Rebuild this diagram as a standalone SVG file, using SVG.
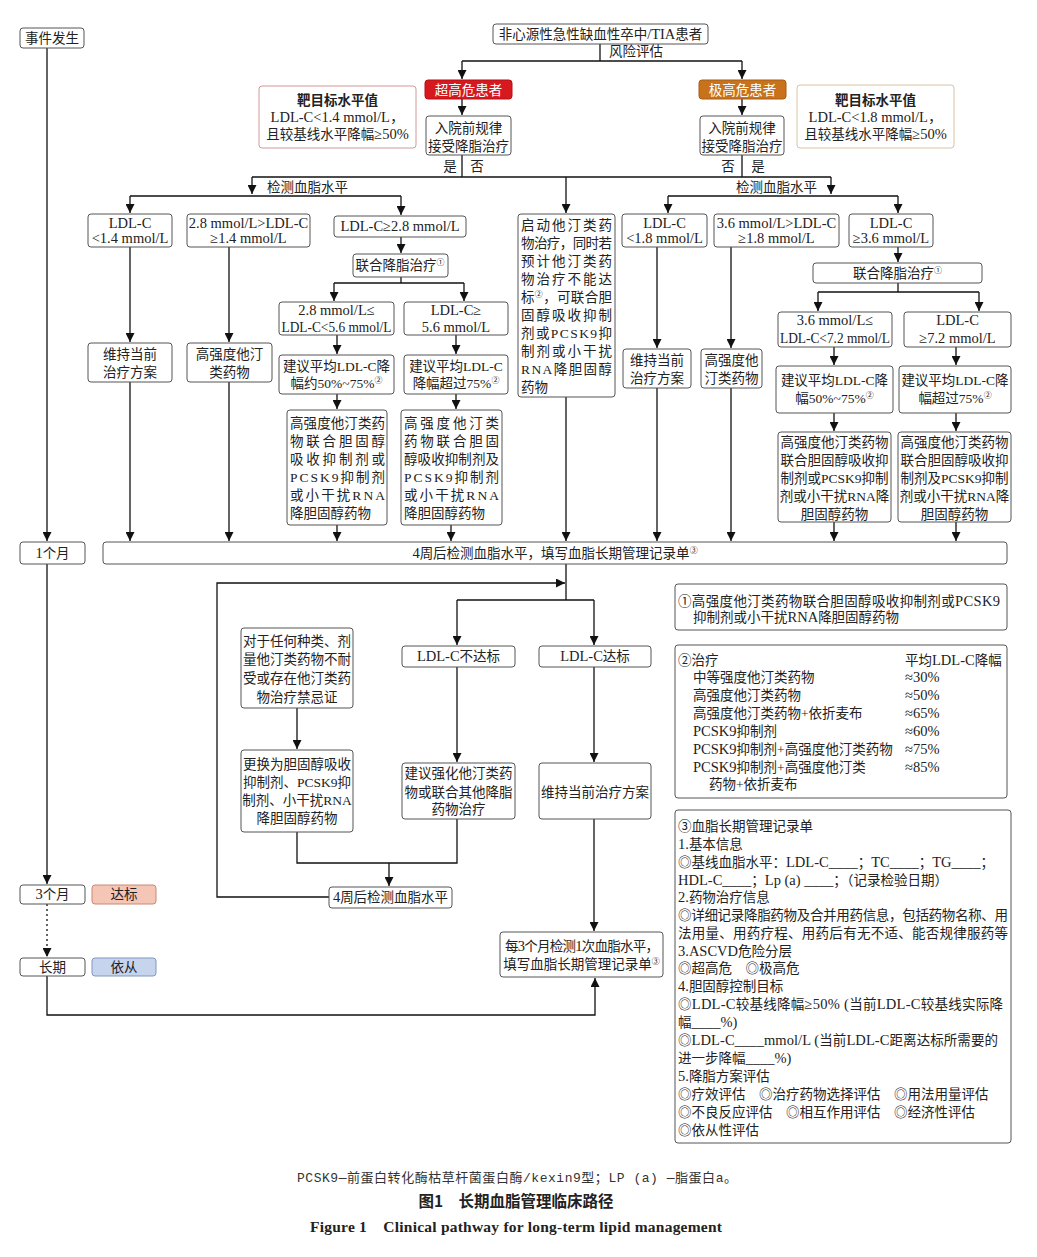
<svg xmlns="http://www.w3.org/2000/svg" width="1037" height="1257" viewBox="0 0 1037 1257">
<style>
.b{fill:#fff;stroke:#555;stroke-width:1}
.t{font-family:"Liberation Serif","Noto Sans CJK SC",serif;font-size:13.5px;fill:#222}
.L{font-size:14.5px}
.c{text-anchor:middle}
.ln{fill:none;stroke:#111;stroke-width:1.3}
.a{marker-end:url(#ah)}
.s{font-size:8px}
.bd{font-family:"Noto Sans CJK SC",sans-serif;font-weight:bold;font-size:13.5px;fill:#222}
</style>
<defs>
<marker id="ah" markerUnits="userSpaceOnUse" markerWidth="9" markerHeight="9" viewBox="0 0 9 9" refX="9" refY="4.5" orient="auto"><path d="M0,0 L9,4.5 L0,9 z" fill="#111"/></marker>
</defs>
<rect width="1037" height="1257" fill="#fff"/>

<g id="connectors">
<path class="ln a" d="M47,48 V541"/>
<path class="ln a" d="M47,564 V884"/>
<path class="ln a" d="M47,904 V957" stroke-dasharray="2,3"/>
<path class="ln a" d="M47,976 V1015 H595 V978"/>
<path class="ln" d="M600,43 V61"/>
<path class="ln" d="M462,61 H742"/>
<path class="ln a" d="M462,61 V79"/>
<path class="ln a" d="M742,61 V79"/>
<path class="ln a" d="M462,99 V115"/>
<path class="ln a" d="M742,99 V115"/>
<path class="ln" d="M462,155 V177"/>
<path class="ln" d="M742,155 V177"/>
<path class="ln" d="M252,177 H831"/>
<path class="ln a" d="M252,177 V194"/>
<path class="ln" d="M130,196 H401"/>
<path class="ln a" d="M130,196 V213"/>
<path class="ln a" d="M401,196 V215"/>
<path class="ln a" d="M566,177 V213"/>
<path class="ln a" d="M831,177 V194"/>
<path class="ln" d="M668,196 H898"/>
<path class="ln a" d="M668,196 V213"/>
<path class="ln a" d="M898,196 V213"/>
<path class="ln a" d="M130,247 V342"/>
<path class="ln a" d="M229,247 V342"/>
<path class="ln a" d="M401,237 V253"/>
<path class="ln" d="M401,277 V283"/>
<path class="ln" d="M334,283 H464"/>
<path class="ln a" d="M334,283 V301"/>
<path class="ln a" d="M464,283 V301"/>
<path class="ln a" d="M337,335 V354"/>
<path class="ln a" d="M456,335 V354"/>
<path class="ln a" d="M337,394 V409"/>
<path class="ln a" d="M456,394 V409"/>
<path class="ln a" d="M130,382 V541"/>
<path class="ln a" d="M229,382 V541"/>
<path class="ln a" d="M337,525 V541"/>
<path class="ln a" d="M451,525 V541"/>
<path class="ln a" d="M566,397 V541"/>
<path class="ln a" d="M657,247 V348"/>
<path class="ln a" d="M731,247 V348"/>
<path class="ln a" d="M898,247 V262"/>
<path class="ln" d="M898,283 V292"/>
<path class="ln" d="M818,292 H979"/>
<path class="ln a" d="M818,292 V311"/>
<path class="ln a" d="M979,292 V311"/>
<path class="ln a" d="M834,347 V365"/>
<path class="ln a" d="M956,347 V365"/>
<path class="ln a" d="M834,413 V431"/>
<path class="ln a" d="M956,413 V431"/>
<path class="ln a" d="M657,388 V541"/>
<path class="ln a" d="M731,388 V541"/>
<path class="ln a" d="M834,522 V541"/>
<path class="ln a" d="M956,522 V541"/>
<path class="ln" d="M566,564 V600"/>
<path class="ln" d="M457,600 H594"/>
<path class="ln a" d="M457,600 V645"/>
<path class="ln a" d="M594,600 V645"/>
<path class="ln a" d="M329,897 H217 V583 H565"/>
<path class="ln a" d="M297,708 V749"/>
<path class="ln a" d="M457,667 V762"/>
<path class="ln a" d="M594,667 V762"/>
<path class="ln" d="M297,832 V863 H457 V819"/>
<path class="ln a" d="M389,863 V886"/>
<path class="ln a" d="M594,819 V931"/>
<text class="t" x="609" y="56">风险评估</text>
<text class="t c" x="450" y="171">是</text>
<text class="t c" x="477" y="171">否</text>
<text class="t c" x="728" y="171">否</text>
<text class="t c" x="758" y="171">是</text>
<text class="t" x="267" y="192">检测血脂水平</text>
<text class="t" x="736" y="192">检测血脂水平</text>
</g>

<g id="n-event"><rect class="b" x="20" y="28" width="64" height="20" rx="3"/><text class="t c" x="52" y="43">事件发生</text></g>
<g id="n-patient"><rect class="b" x="493" y="24" width="215" height="20" rx="3"/><text class="t c" x="600.5" y="39">非心源性急性缺血性卒中<tspan class="L">/TIA</tspan>患者</text></g>
<g id="n-ultra"><rect x="425" y="80" width="87" height="19" rx="3" fill="#d7191f" stroke="#b51018"/><text class="t c" x="468.5" y="94.5" style="fill:#fff">超高危患者</text></g>
<g id="n-very"><rect x="699" y="80" width="87" height="19" rx="3" fill="#c8731c" stroke="#a65d12"/><text class="t c" x="742.5" y="94.5" style="fill:#fff">极高危患者</text></g>
<g id="n-target-l"><rect x="259" y="86" width="157" height="62" rx="3" fill="#fff" stroke="#d19a9a"/>
<text class="bd c" x="337.5" y="105">靶目标水平值</text>
<text class="t L c" x="337.5" y="122">LDL-C&lt;1.4 mmol/L，</text>
<text class="t c" x="337.5" y="139">且较基线水平降幅<tspan class="L">≥50%</tspan></text></g>
<g id="n-target-r"><rect x="797" y="85" width="157" height="63" rx="3" fill="#fff" stroke="#d6c4a0"/>
<text class="bd c" x="875.5" y="105">靶目标水平值</text>
<text class="t L c" x="875.5" y="122">LDL-C&lt;1.8 mmol/L，</text>
<text class="t c" x="875.5" y="139">且较基线水平降幅<tspan class="L">≥50%</tspan></text></g>
<g id="n-dec-l"><rect class="b" x="426" y="116" width="85" height="39" rx="3"/><text class="t c" x="468.5" y="133">入院前规律</text><text class="t c" x="468.5" y="151">接受降脂治疗</text></g>
<g id="n-dec-r"><rect class="b" x="700" y="116" width="84" height="39" rx="3"/><text class="t c" x="742" y="133">入院前规律</text><text class="t c" x="742" y="151">接受降脂治疗</text></g>

<g id="n-a1"><rect class="b" x="88" y="214" width="84" height="33" rx="3"/><text class="t L c" x="130" y="228">LDL-C</text><text class="t L c" x="130" y="243">&lt;1.4 mmol/L</text></g>
<g id="n-a2"><rect class="b" x="187" y="214" width="123" height="33" rx="3"/><text class="t L c" x="248.5" y="228">2.8 mmol/L&gt;LDL-C</text><text class="t L c" x="248.5" y="243">≥1.4 mmol/L</text></g>
<g id="n-a3"><rect class="b" x="334" y="216" width="132" height="21" rx="3"/><text class="t L c" x="400" y="231">LDL-C≥2.8 mmol/L</text></g>
<g id="n-a4"><rect class="b" x="353" y="254" width="95" height="23" rx="3"/><text class="t c" x="400" y="270">联合降脂治疗<tspan class="s" dy="-5">①</tspan></text></g>
<g id="n-a5"><rect class="b" x="279" y="302" width="115" height="33" rx="3"/><text class="t L c" x="336.5" y="315">2.8 mmol/L≤</text><text class="t L" x="281.5" y="332" textLength="110" lengthAdjust="spacingAndGlyphs">LDL-C&lt;5.6 mmol/L</text></g>
<g id="n-a6"><rect class="b" x="404" y="302" width="104" height="33" rx="3"/><text class="t L c" x="456" y="315">LDL-C≥</text><text class="t L c" x="456" y="332">5.6 mmol/L</text></g>
<g id="n-a7"><rect class="b" x="279" y="355" width="115" height="39" rx="3"/><text class="t c" x="336.5" y="371">建议平均LDL-C降</text><text class="t c" x="336.5" y="388">幅约50%~75%<tspan class="s" dy="-5">②</tspan></text></g>
<g id="n-a8"><rect class="b" x="404" y="355" width="104" height="39" rx="3"/><text class="t c" x="456" y="371">建议平均LDL-C</text><text class="t c" x="456" y="388">降幅超过75%<tspan class="s" dy="-5">②</tspan></text></g>
<g id="n-a9"><rect class="b" x="287" y="410" width="100" height="115" rx="3"/>
<text class="t" x="290" y="428" textLength="95">高强度他汀类药</text>
<text class="t" x="290" y="446" textLength="95">物联合胆固醇</text>
<text class="t" x="290" y="464" textLength="95">吸收抑制剂或</text>
<text class="t" x="290" y="482" textLength="95">PCSK9抑制剂</text>
<text class="t" x="290" y="500" textLength="95">或小干扰RNA</text>
<text class="t" x="290" y="518">降胆固醇药物</text></g>
<g id="n-a10"><rect class="b" x="401" y="410" width="101" height="115" rx="3"/>
<text class="t" x="404" y="428" textLength="95">高强度他汀类</text>
<text class="t" x="404" y="446" textLength="95">药物联合胆固</text>
<text class="t" x="404" y="464" textLength="95">醇吸收抑制剂及</text>
<text class="t" x="404" y="482" textLength="95">PCSK9抑制剂</text>
<text class="t" x="404" y="500" textLength="95">或小干扰RNA</text>
<text class="t" x="404" y="518">降胆固醇药物</text></g>
<g id="n-a11"><rect class="b" x="88" y="343" width="84" height="39" rx="3"/><text class="t c" x="130" y="359">维持当前</text><text class="t c" x="130" y="377">治疗方案</text></g>
<g id="n-a12"><rect class="b" x="187" y="343" width="85" height="39" rx="3"/><text class="t c" x="229.5" y="359">高强度他汀</text><text class="t c" x="229.5" y="377">类药物</text></g>

<g id="n-m"><rect class="b" x="518" y="214" width="97" height="183" rx="3"/>
<text class="t" x="521" y="230" textLength="91">启动他汀类药</text>
<text class="t" x="521" y="248" textLength="91">物治疗，同时若</text>
<text class="t" x="521" y="266" textLength="91">预计他汀类药</text>
<text class="t" x="521" y="284" textLength="91">物治疗不能达</text>
<text class="t" x="521" y="302" textLength="91">标<tspan class="s" dy="-5">②</tspan><tspan dy="5">，可联合胆</tspan></text>
<text class="t" x="521" y="320" textLength="91">固醇吸收抑制</text>
<text class="t" x="521" y="338" textLength="91">剂或PCSK9抑</text>
<text class="t" x="521" y="356" textLength="91">制剂或小干扰</text>
<text class="t" x="521" y="374" textLength="91">RNA降胆固醇</text>
<text class="t" x="521" y="392">药物</text></g>

<g id="n-b1"><rect class="b" x="622" y="214" width="85" height="33" rx="3"/><text class="t L c" x="664.5" y="228">LDL-C</text><text class="t L c" x="664.5" y="243">&lt;1.8 mmol/L</text></g>
<g id="n-b2"><rect class="b" x="714" y="214" width="125" height="33" rx="3"/><text class="t L c" x="776.5" y="228">3.6 mmol/L&gt;LDL-C</text><text class="t L c" x="776.5" y="243">≥1.8 mmol/L</text></g>
<g id="n-b3"><rect class="b" x="849" y="214" width="84" height="33" rx="3"/><text class="t L c" x="891" y="228">LDL-C</text><text class="t L c" x="891" y="243">≥3.6 mmol/L</text></g>
<g id="n-b4"><rect class="b" x="623" y="349" width="68" height="39" rx="3"/><text class="t c" x="657" y="365">维持当前</text><text class="t c" x="657" y="383">治疗方案</text></g>
<g id="n-b5"><rect class="b" x="701" y="349" width="61" height="39" rx="3"/><text class="t c" x="731.5" y="365">高强度他</text><text class="t c" x="731.5" y="383">汀类药物</text></g>
<g id="n-b6"><rect class="b" x="813" y="263" width="169" height="20" rx="3"/><text class="t c" x="897.5" y="278">联合降脂治疗<tspan class="s" dy="-5">①</tspan></text></g>
<g id="n-b7"><rect class="b" x="778" y="312" width="114" height="35" rx="3"/><text class="t L c" x="835" y="325">3.6 mmol/L≤</text><text class="t L" x="780" y="343" textLength="110" lengthAdjust="spacingAndGlyphs">LDL-C&lt;7.2 mmol/L</text></g>
<g id="n-b8"><rect class="b" x="904" y="312" width="107" height="35" rx="3"/><text class="t L c" x="957.5" y="325">LDL-C</text><text class="t L c" x="957.5" y="343">≥7.2 mmol/L</text></g>
<g id="n-b9"><rect class="b" x="776" y="366" width="117" height="47" rx="3"/><text class="t c" x="834.5" y="385">建议平均LDL-C降</text><text class="t c" x="834.5" y="403">幅50%~75%<tspan class="s" dy="-5">②</tspan></text></g>
<g id="n-b10"><rect class="b" x="899" y="366" width="112" height="47" rx="3"/><text class="t c" x="955" y="385">建议平均LDL-C降</text><text class="t c" x="955" y="403">幅超过75%<tspan class="s" dy="-5">②</tspan></text></g>
<g id="n-b11"><rect class="b" x="778" y="432" width="113" height="90" rx="3"/>
<text class="t c" x="834.5" y="447">高强度他汀类药物</text>
<text class="t c" x="834.5" y="465">联合胆固醇吸收抑</text>
<text class="t c" x="834.5" y="483">制剂或PCSK9抑制</text>
<text class="t c" x="834.5" y="501">剂或小干扰RNA降</text>
<text class="t c" x="834.5" y="519">胆固醇药物</text></g>
<g id="n-b12"><rect class="b" x="898" y="432" width="113" height="90" rx="3"/>
<text class="t c" x="954.5" y="447">高强度他汀类药物</text>
<text class="t c" x="954.5" y="465">联合胆固醇吸收抑</text>
<text class="t c" x="954.5" y="483">制剂及PCSK9抑制</text>
<text class="t c" x="954.5" y="501">剂或小干扰RNA降</text>
<text class="t c" x="954.5" y="519">胆固醇药物</text></g>

<g id="n-1m"><rect class="b" x="20" y="542" width="65" height="22" rx="3"/><text class="t c" x="52.5" y="558"><tspan class="L">1</tspan>个月</text></g>
<g id="n-bar"><rect class="b" x="103" y="542" width="904" height="22" rx="3"/><text class="t c" x="555" y="558"><tspan class="L">4</tspan>周后检测血脂水平，填写血脂长期管理记录单<tspan class="s" dy="-5">③</tspan></text></g>

<g id="n-intol"><rect class="b" x="241" y="628" width="112" height="80" rx="3"/>
<text class="t c" x="297" y="646">对于任何种类、剂</text>
<text class="t c" x="297" y="664">量他汀类药物不耐</text>
<text class="t c" x="297" y="683">受或存在他汀类药</text>
<text class="t c" x="297" y="702">物治疗禁忌证</text></g>
<g id="n-notmet"><rect class="b" x="402" y="646" width="113" height="21" rx="3"/><text class="t c" x="458.5" y="661"><tspan class="L">LDL-C</tspan>不达标</text></g>
<g id="n-met"><rect class="b" x="539" y="646" width="112" height="21" rx="3"/><text class="t c" x="595" y="661"><tspan class="L">LDL-C</tspan>达标</text></g>
<g id="n-switch"><rect class="b" x="241" y="750" width="112" height="82" rx="3"/>
<text class="t c" x="297" y="769">更换为胆固醇吸收</text>
<text class="t c" x="297" y="787">抑制剂、PCSK9抑</text>
<text class="t c" x="297" y="805">制剂、小干扰RNA</text>
<text class="t c" x="297" y="823">降胆固醇药物</text></g>
<g id="n-intens"><rect class="b" x="402" y="763" width="113" height="56" rx="3"/>
<text class="t c" x="458.5" y="778">建议强化他汀类药</text>
<text class="t c" x="458.5" y="797">物或联合其他降脂</text>
<text class="t c" x="458.5" y="814">药物治疗</text></g>
<g id="n-keep"><rect class="b" x="539" y="763" width="112" height="56" rx="3"/><text class="t c" x="595" y="797">维持当前治疗方案</text></g>
<g id="n-4w"><rect class="b" x="329" y="887" width="123" height="21" rx="3"/><text class="t c" x="390.5" y="902"><tspan class="L">4</tspan>周后检测血脂水平</text></g>
<g id="n-3m-check"><rect class="b" x="500" y="932" width="163" height="45" rx="3"/>
<text class="t" x="505" y="951" textLength="154">每<tspan class="L">3</tspan>个月检测<tspan class="L">1</tspan>次血脂水平，</text>
<text class="t c" x="581.5" y="969">填写血脂长期管理记录单<tspan class="s" dy="-5">③</tspan></text></g>
<g id="n-3m"><rect class="b" x="20" y="885" width="65" height="19" rx="3"/><text class="t c" x="52.5" y="899"><tspan class="L">3</tspan>个月</text></g>
<g id="n-reach"><rect x="92" y="885" width="64" height="19" rx="3" fill="#f5c5b6" stroke="#c98877"/><text class="t c" x="124" y="899">达标</text></g>
<g id="n-long"><rect class="b" x="20" y="958" width="65" height="18" rx="3"/><text class="t c" x="52.5" y="972">长期</text></g>
<g id="n-adh"><rect x="92" y="958" width="64" height="18" rx="3" fill="#c6d4ee" stroke="#8197c0"/><text class="t c" x="124" y="972">依从</text></g>

<g id="n-note1"><rect class="b" x="675" y="584" width="332" height="46" rx="3"/>
<text class="t" x="678" y="606" textLength="322">①高强度他汀类药物联合胆固醇吸收抑制剂或<tspan class="L">PCSK9</tspan></text>
<text class="t" x="693" y="622">抑制剂或小干扰<tspan class="L">RNA</tspan>降胆固醇药物</text></g>
<g id="n-note2"><rect class="b" x="675" y="645" width="332" height="153" rx="3"/>
<text class="t" x="678" y="665">②治疗</text><text class="t" x="905" y="665">平均<tspan class="L">LDL-C</tspan>降幅</text>
<text class="t" x="693" y="682">中等强度他汀类药物</text><text class="t L" x="905" y="682">≈30%</text>
<text class="t" x="693" y="700">高强度他汀类药物</text><text class="t L" x="905" y="700">≈50%</text>
<text class="t" x="693" y="718">高强度他汀类药物+依折麦布</text><text class="t L" x="905" y="718">≈65%</text>
<text class="t" x="693" y="736"><tspan class="L">PCSK9</tspan>抑制剂</text><text class="t L" x="905" y="736">≈60%</text>
<text class="t" x="693" y="754"><tspan class="L">PCSK9</tspan>抑制剂+高强度他汀类药物</text><text class="t L" x="905" y="754">≈75%</text>
<text class="t" x="693" y="772"><tspan class="L">PCSK9</tspan>抑制剂+高强度他汀类</text><text class="t L" x="905" y="772">≈85%</text>
<text class="t" x="709" y="789">药物+依折麦布</text></g>
<g id="n-note3"><rect class="b" x="675" y="810" width="336" height="333" rx="3"/>
<text class="t" x="678" y="831">③血脂长期管理记录单</text>
<text class="t" x="678" y="849"><tspan class="L">1.</tspan>基本信息</text>
<text class="t" x="678" y="867">◎基线血脂水平：<tspan class="L">LDL-C____</tspan>；<tspan class="L">TC____</tspan>；<tspan class="L">TG____</tspan>；</text>
<text class="t" x="678" y="885"><tspan class="L">HDL-C____</tspan>；<tspan class="L">Lp (a) ____</tspan>；（记录检验日期）</text>
<text class="t" x="678" y="902"><tspan class="L">2.</tspan>药物治疗信息</text>
<text class="t" x="678" y="920" textLength="330">◎详细记录降脂药物及合并用药信息，包括药物名称、用</text>
<text class="t" x="678" y="938" textLength="330">法用量、用药疗程、用药后有无不适、能否规律服药等</text>
<text class="t" x="678" y="956"><tspan class="L">3.ASCVD</tspan>危险分层</text>
<text class="t" x="678" y="973">◎超高危　◎极高危</text>
<text class="t" x="678" y="991"><tspan class="L">4.</tspan>胆固醇控制目标</text>
<text class="t" x="678" y="1009" textLength="325">◎<tspan class="L">LDL-C</tspan>较基线降幅<tspan class="L">≥50% (</tspan>当前<tspan class="L">LDL-C</tspan>较基线实际降</text>
<text class="t" x="678" y="1027">幅<tspan class="L">____%)</tspan></text>
<text class="t" x="678" y="1045" textLength="320">◎<tspan class="L">LDL-C____mmol/L (</tspan>当前<tspan class="L">LDL-C</tspan>距离达标所需要的</text>
<text class="t" x="678" y="1063">进一步降幅<tspan class="L">____%)</tspan></text>
<text class="t" x="678" y="1081"><tspan class="L">5.</tspan>降脂方案评估</text>
<text class="t" x="678" y="1099">◎疗效评估　◎治疗药物选择评估　◎用法用量评估</text>
<text class="t" x="678" y="1117">◎不良反应评估　◎相互作用评估　◎经济性评估</text>
<text class="t" x="678" y="1135">◎依从性评估</text></g>

<g id="caption">
<text x="297" y="1182" textLength="440" style="font-family:'Liberation Mono','Noto Sans CJK SC',monospace;font-size:13px;fill:#333">PCSK9—前蛋白转化酶枯草杆菌蛋白酶/kexin9型；LP (a) —脂蛋白a。</text>
<text x="516" y="1207" text-anchor="middle" style="font-family:'Noto Sans CJK SC',sans-serif;font-weight:bold;font-size:15.5px;fill:#222">图1　长期血脂管理临床路径</text>
<text x="310" y="1232" textLength="412" style="font-family:'Liberation Serif',serif;font-weight:bold;font-size:15.5px;fill:#222">Figure 1　Clinical pathway for long-term lipid management</text>
</g>
</svg>
